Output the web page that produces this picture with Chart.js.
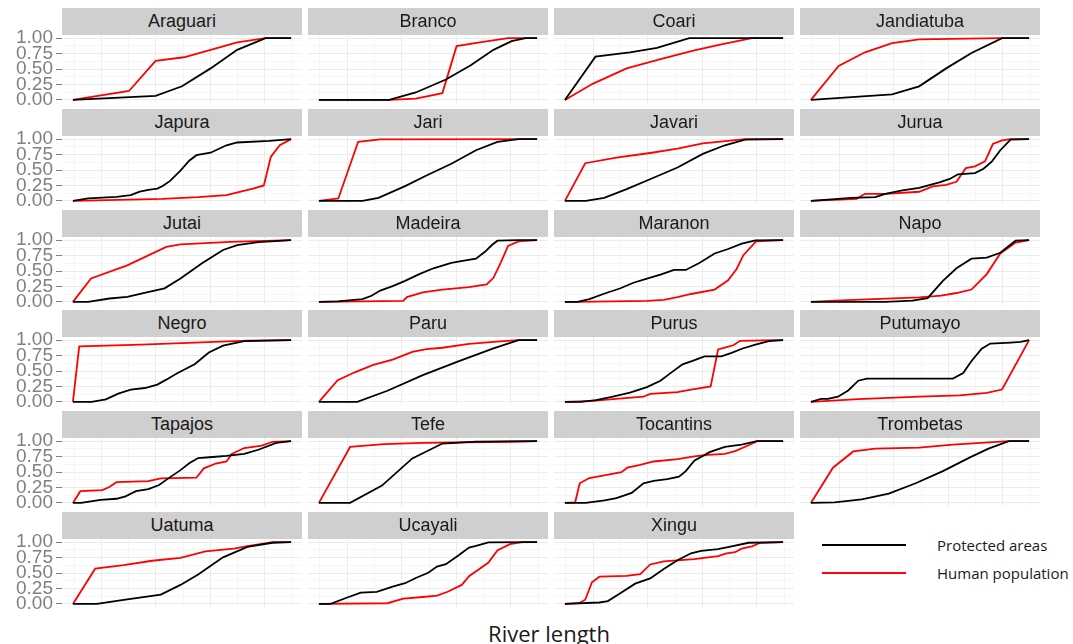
<!DOCTYPE html>
<html>
<head>
<meta charset="utf-8">
<script src="https://cdn.jsdelivr.net/npm/chart.js@4.4.0/dist/chart.umd.min.js"></script>
<style>
  body { margin: 0; background: #fff; width: 1073px; height: 644px; overflow: hidden; position: relative; }
  .strip {
    position: absolute; height: 27px; width: 240px; background: #cfcfcf;
    color: #1a1a1a; font: 18px "Liberation Sans", Arial, sans-serif;
    text-align: center; line-height: 27px; z-index: 2;
  }
  canvas { position: absolute; z-index: 1; }
  .key-line { position: absolute; left: 822px; width: 84px; height: 2px; }
  .key-text { position: absolute; left: 937px; font: 15px "Open Sans", sans-serif; color: #1a1a1a; line-height: 18px; }
  #xtitle { position: absolute; left: 449px; width: 200px; top: 618px; text-align: center;
    font: 22px "Open Sans", sans-serif; color: #1a1a1a; }
</style>
</head>
<body>
<div class="key-line" style="top:544px;background:#000"></div>
<div class="key-text" style="top:536px">Protected areas</div>
<div class="key-line" style="top:572px;background:#ff0000"></div>
<div class="key-text" style="top:564px">Human population</div>
<div id="xtitle">River length</div>
<script>
// River facets, in reading order
const rivers = ['Araguari', 'Branco', 'Coari', 'Jandiatuba', 'Japura', 'Jari', 'Javari', 'Jurua',
  'Jutai', 'Madeira', 'Maranon', 'Napo', 'Negro', 'Paru', 'Purus', 'Putumayo',
  'Tapajos', 'Tefe', 'Tocantins', 'Trombetas', 'Uatuma', 'Ucayali', 'Xingu'];

const seriesNames = ['Protected areas', 'Human population'];
const yTickLabels = [0, 0.25, 0.5, 0.75, 1];
const yTickValues = [0, 0.125, 0.25, 0.375, 0.5, 0.625, 0.75, 0.875, 1];
const xTickValues = [0.005, 0.13, 0.255, 0.38, 0.505, 0.63, 0.755, 0.88, 1.005];
const xMajor = [0.13, 0.38, 0.63, 0.88];

// [relative river length, cumulative share]
const araguariProt = [[0,0],[0.379,0.066],[0.5,0.22],[0.631,0.51],[0.753,0.81],[0.883,1],[1,1]];
const araguariHum = [[0,0],[0.257,0.144],[0.379,0.63],[0.509,0.69],[0.623,0.8],[0.753,0.93],[0.883,1],[1,1]];
const brancoProt = [[0,0],[0.322,0],[0.444,0.12],[0.582,0.33],[0.696,0.56],[0.8,0.81],[0.883,0.95],[0.948,1],[1,1]];
const brancoHum = [[0,0],[0.322,0],[0.444,0.02],[0.566,0.11],[0.631,0.87],[0.752,0.94],[0.867,1],[1,1]];
const coariProt = [[0,0],[0.14,0.7],[0.298,0.77],[0.422,0.84],[0.57,1],[1,1]];
const coariHum = [[0,0],[0.127,0.26],[0.283,0.51],[0.438,0.66],[0.593,0.8],[0.717,0.9],[0.857,1],[1,1]];
const jandiatubaProt = [[0,0],[0.372,0.09],[0.496,0.22],[0.62,0.51],[0.736,0.76],[0.876,1],[1,1]];
const jandiatubaHum = [[0,0],[0.127,0.55],[0.248,0.77],[0.372,0.92],[0.496,0.98],[0.868,1],[1,1]];
const japuraProt = [[0,0],[0.07,0.04],[0.2,0.066],[0.265,0.093],[0.306,0.15],[0.346,0.18],[0.387,0.2],[0.411,0.24],[0.444,0.32],[0.493,0.49],[0.533,0.65],[0.566,0.74],[0.631,0.78],[0.704,0.9],[0.753,0.945],[0.9,0.97],[1,1]];
const japuraHum = [[0,0],[0.054,0.005],[0.411,0.033],[0.574,0.06],[0.704,0.093],[0.769,0.15],[0.826,0.2],[0.875,0.25],[0.907,0.71],[0.948,0.9],[1,1]];
const jariProt = [[0,0],[0.2,0],[0.273,0.05],[0.395,0.24],[0.493,0.41],[0.607,0.6],[0.72,0.82],[0.818,0.956],[0.915,1],[1,1]];
const jariHum = [[0,0],[0.089,0.04],[0.18,0.956],[0.28,0.995],[1,1]];
const javariProt = [[0,0],[0.096,0],[0.18,0.05],[0.283,0.19],[0.39,0.35],[0.516,0.54],[0.632,0.76],[0.733,0.9],[0.826,0.99],[1,1]];
const javariHum = [[0,0],[0.093,0.61],[0.236,0.7],[0.39,0.775],[0.516,0.846],[0.632,0.93],[0.826,1],[1,1]];
const juruaProt = [[0,0],[0.186,0.05],[0.295,0.06],[0.341,0.115],[0.419,0.17],[0.496,0.21],[0.589,0.3],[0.636,0.355],[0.674,0.43],[0.752,0.45],[0.791,0.52],[0.83,0.64],[0.868,0.82],[0.915,0.99],[1,1]];
const juruaHum = [[0,0],[0.209,0.033],[0.248,0.115],[0.341,0.115],[0.496,0.148],[0.558,0.236],[0.62,0.26],[0.667,0.31],[0.71,0.53],[0.752,0.56],[0.798,0.64],[0.834,0.92],[0.876,0.98],[0.915,1],[1,1]];
const jutaiProt = [[0,0],[0.07,0],[0.167,0.055],[0.249,0.083],[0.338,0.156],[0.42,0.22],[0.493,0.38],[0.59,0.62],[0.688,0.84],[0.753,0.92],[0.85,0.967],[1,1]];
const jutaiHum = [[0,0],[0.083,0.38],[0.249,0.59],[0.428,0.89],[0.493,0.93],[0.72,0.97],[1,1]];
const madeiraProt = [[0,0],[0.086,0.01],[0.2,0.044],[0.241,0.1],[0.281,0.183],[0.338,0.256],[0.395,0.34],[0.46,0.45],[0.525,0.544],[0.607,0.633],[0.672,0.672],[0.72,0.7],[0.761,0.81],[0.793,0.92],[0.818,0.99],[0.915,1],[1,1]];
const madeiraHum = [[0,0],[0.387,0.017],[0.403,0.078],[0.476,0.156],[0.566,0.2],[0.688,0.24],[0.769,0.283],[0.8,0.39],[0.834,0.64],[0.867,0.905],[0.915,0.98],[1,1]];
const maranonProt = [[0,0],[0.057,0],[0.112,0.044],[0.189,0.144],[0.252,0.217],[0.314,0.31],[0.376,0.378],[0.438,0.44],[0.5,0.517],[0.554,0.517],[0.616,0.628],[0.686,0.783],[0.748,0.856],[0.811,0.944],[0.873,0.994],[1,1]];
const maranonHum = [[0,0],[0.057,0],[0.376,0.017],[0.453,0.033],[0.516,0.078],[0.578,0.128],[0.686,0.2],[0.748,0.35],[0.787,0.533],[0.818,0.756],[0.876,0.978],[1,1]];
const napoProt = [[0,0],[0.341,0],[0.465,0.022],[0.535,0.061],[0.605,0.339],[0.667,0.544],[0.736,0.7],[0.806,0.717],[0.868,0.794],[0.938,0.99],[1,1]];
const napoHum = [[0,0],[0.109,0.022],[0.496,0.072],[0.597,0.1],[0.667,0.144],[0.736,0.2],[0.806,0.45],[0.868,0.783],[0.938,0.96],[1,1]];
const negroProt = [[0,0],[0.086,0],[0.151,0.04],[0.208,0.135],[0.265,0.197],[0.33,0.225],[0.387,0.28],[0.428,0.36],[0.476,0.46],[0.558,0.61],[0.623,0.8],[0.688,0.91],[0.785,0.983],[1,1]];
const negroHum = [[0,0],[0.029,0.9],[0.314,0.927],[0.8,0.99],[1,1]];
const paruProt = [[0,0],[0.176,0],[0.314,0.18],[0.476,0.433],[0.639,0.657],[0.8,0.865],[0.915,1],[1,1]];
const paruHum = [[0,0],[0.086,0.35],[0.167,0.483],[0.249,0.6],[0.338,0.685],[0.428,0.81],[0.493,0.854],[0.566,0.876],[0.688,0.938],[0.8,0.97],[0.915,1],[1,1]];
const purusProt = [[0,0],[0.073,0],[0.143,0.028],[0.22,0.084],[0.298,0.152],[0.376,0.24],[0.438,0.343],[0.484,0.466],[0.539,0.607],[0.585,0.663],[0.64,0.736],[0.717,0.736],[0.764,0.792],[0.811,0.86],[0.873,0.927],[0.935,0.983],[1,1]];
const purusHum = [[0,0],[0.127,0.017],[0.22,0.045],[0.36,0.084],[0.391,0.13],[0.516,0.157],[0.578,0.2],[0.668,0.25],[0.702,0.848],[0.741,0.888],[0.772,0.916],[0.803,0.989],[0.966,1],[1,1]];
const putumayoProt = [[0,0],[0.047,0.05],[0.078,0.05],[0.124,0.084],[0.171,0.185],[0.217,0.343],[0.256,0.376],[0.651,0.376],[0.698,0.466],[0.736,0.663],[0.783,0.86],[0.822,0.944],[0.915,0.96],[0.961,0.97],[1,1]];
const putumayoHum = [[0,0],[0.217,0.045],[0.496,0.084],[0.682,0.107],[0.806,0.146],[0.876,0.2],[1,1]];
const tapajosProt = [[0,0],[0.037,0],[0.127,0.05],[0.2,0.067],[0.241,0.106],[0.289,0.19],[0.346,0.223],[0.395,0.29],[0.444,0.413],[0.493,0.53],[0.533,0.642],[0.574,0.726],[0.639,0.743],[0.704,0.76],[0.785,0.793],[0.85,0.86],[0.932,0.972],[1,1]];
const tapajosHum = [[0,0],[0.034,0.19],[0.135,0.207],[0.167,0.257],[0.2,0.335],[0.346,0.352],[0.403,0.397],[0.566,0.408],[0.6,0.559],[0.655,0.637],[0.704,0.67],[0.728,0.793],[0.785,0.888],[0.866,0.927],[0.915,0.989],[1,1]];
const tefeProt = [[0,0],[0.143,0],[0.289,0.28],[0.428,0.72],[0.566,0.96],[0.72,0.99],[1,1]];
const tefeHum = [[0,0],[0.143,0.905],[0.298,0.95],[0.476,0.972],[0.867,0.989],[1,1]];
const tocantinsProt = [[0,0],[0.096,0],[0.182,0.04],[0.236,0.078],[0.306,0.162],[0.36,0.318],[0.407,0.357],[0.469,0.385],[0.523,0.425],[0.554,0.514],[0.593,0.682],[0.663,0.821],[0.733,0.905],[0.81,0.944],[0.88,1],[1,1]];
const tocantinsHum = [[0,0],[0.047,0.01],[0.068,0.318],[0.112,0.402],[0.174,0.44],[0.259,0.497],[0.286,0.57],[0.345,0.614],[0.407,0.67],[0.516,0.709],[0.593,0.754],[0.655,0.777],[0.733,0.793],[0.78,0.838],[0.842,0.933],[0.88,1],[1,1]];
const trombetasProt = [[0,0],[0.109,0.01],[0.233,0.056],[0.357,0.15],[0.48,0.318],[0.605,0.514],[0.729,0.737],[0.814,0.877],[0.907,1],[1,1]];
const trombetasHum = [[0,0],[0.101,0.57],[0.194,0.832],[0.295,0.877],[0.496,0.894],[0.651,0.944],[0.907,1],[1,1]];
const uatumaProt = [[0,0],[0.11,0],[0.233,0.067],[0.403,0.151],[0.493,0.307],[0.574,0.475],[0.688,0.754],[0.8,0.922],[0.915,0.989],[1,1]];
const uatumaHum = [[0,0],[0.102,0.57],[0.233,0.626],[0.363,0.698],[0.493,0.743],[0.607,0.849],[0.737,0.894],[0.8,0.933],[0.915,1],[1,1]];
const ucayaliProt = [[0,0],[0.054,0],[0.127,0.1],[0.192,0.184],[0.265,0.196],[0.338,0.28],[0.395,0.335],[0.444,0.419],[0.501,0.503],[0.541,0.603],[0.582,0.642],[0.639,0.782],[0.688,0.911],[0.72,0.939],[0.777,0.994],[1,1]];
const ucayaliHum = [[0,0],[0.314,0.011],[0.387,0.084],[0.476,0.112],[0.541,0.134],[0.59,0.196],[0.655,0.307],[0.688,0.447],[0.737,0.57],[0.777,0.67],[0.818,0.866],[0.875,0.966],[0.932,1],[1,1]];
const xinguProt = [[0,0],[0.158,0.023],[0.197,0.045],[0.252,0.17],[0.322,0.328],[0.391,0.412],[0.453,0.565],[0.516,0.706],[0.578,0.819],[0.624,0.859],[0.702,0.887],[0.764,0.932],[0.842,0.989],[1,1]];
const xinguHum = [[0,0],[0.065,0.011],[0.093,0.068],[0.124,0.35],[0.158,0.44],[0.283,0.452],[0.345,0.48],[0.391,0.638],[0.453,0.689],[0.593,0.723],[0.702,0.774],[0.741,0.819],[0.78,0.836],[0.81,0.893],[0.857,0.932],[0.896,0.989],[1,1]];

const protectedSeries = [araguariProt, brancoProt, coariProt, jandiatubaProt, japuraProt, jariProt, javariProt, juruaProt,
  jutaiProt, madeiraProt, maranonProt, napoProt, negroProt, paruProt, purusProt, putumayoProt,
  tapajosProt, tefeProt, tocantinsProt, trombetasProt, uatumaProt, ucayaliProt, xinguProt];
const humanSeries = [araguariHum, brancoHum, coariHum, jandiatubaHum, japuraHum, jariHum, javariHum, juruaHum,
  jutaiHum, madeiraHum, maranonHum, napoHum, negroHum, paruHum, purusHum, putumayoHum,
  tapajosHum, tefeHum, tocantinsHum, trombetasHum, uatumaHum, ucayaliHum, xinguHum];

// Facet geometry
const COL_LEFT = 62, COL_PITCH = 246, PANEL_W = 240;
const ROW_TOP = 8, ROW_PITCH = 100.8, STRIP_H = 27, PLOT_H = 68, AXIS_W = 62, BOTTOM_PAD = 12;

const isMajorY = v => yTickLabels.some(t => Math.abs(t - v) < 1e-6);
const isMajorX = v => xMajor.some(t => Math.abs(t - v) < 1e-6);
const toPoints = arr => arr.map(p => ({ x: p[0], y: p[1] }));

rivers.forEach((name, i) => {
  const col = i % 4;
  const row = Math.floor(i / 4);
  const left = COL_LEFT + col * COL_PITCH;
  const top = Math.round(ROW_TOP + row * ROW_PITCH);
  const withAxis = col === 0;

  const strip = document.createElement('div');
  strip.className = 'strip';
  strip.style.left = left + 'px';
  strip.style.top = top + 'px';
  strip.textContent = name;
  document.body.appendChild(strip);

  const canvas = document.createElement('canvas');
  const w = PANEL_W + (withAxis ? AXIS_W : 0);
  const h = STRIP_H + PLOT_H + BOTTOM_PAD;
  canvas.width = w;
  canvas.height = h;
  canvas.style.width = w + 'px';
  canvas.style.height = h + 'px';
  canvas.style.left = (left - (withAxis ? AXIS_W : 0)) + 'px';
  canvas.style.top = top + 'px';
  document.body.appendChild(canvas);

  new Chart(canvas, {
    type: 'line',
    data: {
      datasets: [
        { label: seriesNames[0], data: toPoints(protectedSeries[i]), borderColor: '#000000', borderWidth: 1.8 },
        { label: seriesNames[1], data: toPoints(humanSeries[i]), borderColor: '#ff0000', borderWidth: 1.8 }
      ]
    },
    options: {
      responsive: false,
      animation: false,
      devicePixelRatio: 1,
      layout: { padding: { top: STRIP_H, bottom: BOTTOM_PAD, left: 0, right: 0 } },
      elements: { point: { radius: 0 }, line: { tension: 0 } },
      plugins: { legend: { display: false }, tooltip: { enabled: false } },
      scales: {
        x: {
          type: 'linear', min: -0.05, max: 1.05,
          afterBuildTicks: s => { s.ticks = xTickValues.map(v => ({ value: v })); },
          afterFit: s => { s.height = 0; s.paddingLeft = 0; s.paddingRight = 0; },
          ticks: { display: false },
          grid: {
            drawTicks: false,
            color: ctx => isMajorX(ctx.tick.value) ? '#ebebeb' : '#f6f6f6'
          },
          border: { display: false }
        },
        y: {
          type: 'linear', min: -0.05, max: 1.05,
          afterBuildTicks: s => { s.ticks = yTickValues.map(v => ({ value: v })); },
          afterFit: s => { s.width = withAxis ? AXIS_W : 0; s.paddingTop = 0; s.paddingBottom = 0; },
          ticks: {
            display: withAxis,
            autoSkip: false,
            padding: 3,
            color: '#808080',
            font: { size: 19, family: '"Liberation Sans", Arial, sans-serif' },
            callback: v => isMajorY(v) ? v.toFixed(2) : ''
          },
          grid: {
            drawTicks: withAxis,
            tickLength: 6,
            tickColor: ctx => isMajorY(ctx.tick.value) ? '#808080' : 'rgba(0,0,0,0)',
            color: ctx => isMajorY(ctx.tick.value) ? '#ebebeb' : '#f6f6f6'
          },
          border: { display: false }
        }
      }
    }
  });
});
</script>
</body>
</html>
